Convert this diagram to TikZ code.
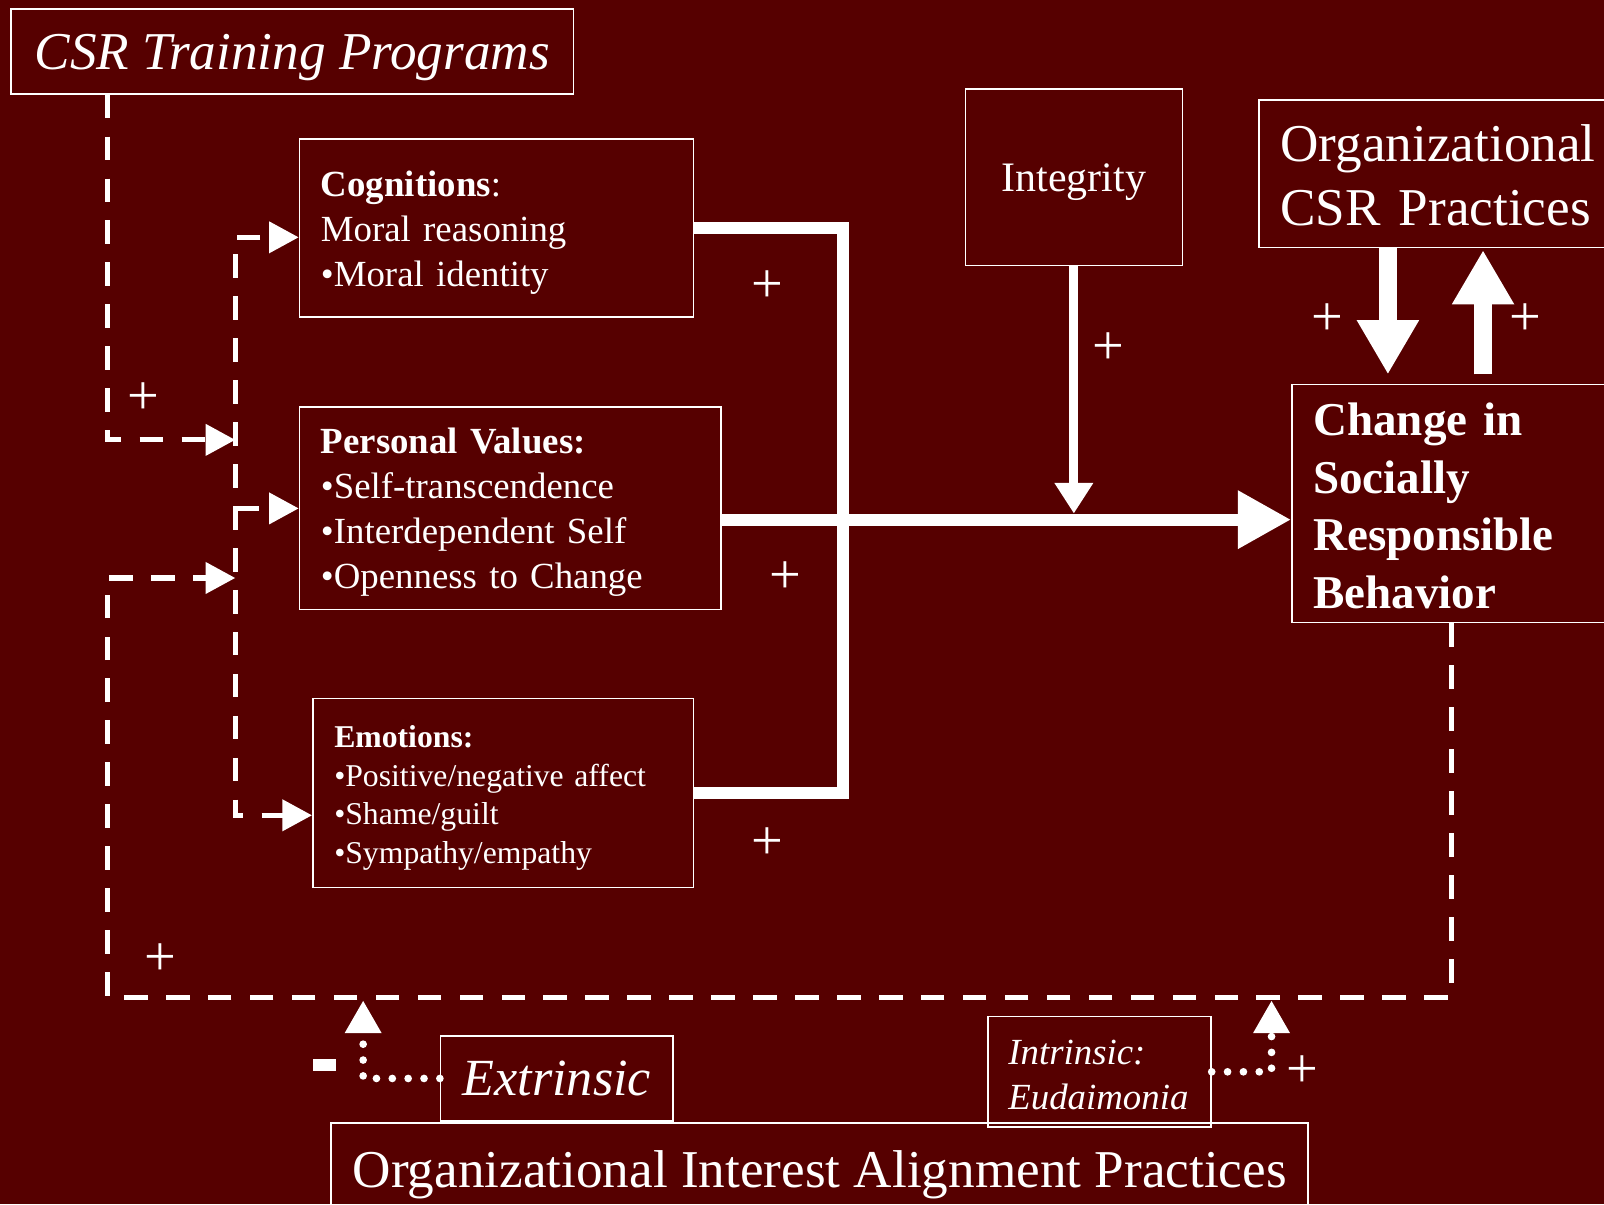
\documentclass[tikz,border=0pt]{standalone}
\usepackage{fontspec}
\setmainfont{Liberation Serif}
\usetikzlibrary{arrows.meta}
\definecolor{bgred}{RGB}{86,0,0}
\newcommand\setfs[2]{\fontsize{#1}{#2}\selectfont}

\tikzset{
  box/.style={draw=white,line width=1.5pt,text=white,inner ysep=0pt,inner xsep=21pt,
    text depth=0pt},
  bar/.style={white,line width=12pt},
  fat arrow/.style={white,line width=18pt,-{Triangle[length=53pt,width=57pt]}},
  dashline/.style={white,line width=5pt,dash pattern=on 23pt off 18pt,
    >={Triangle[length=29pt,width=30pt]}},
  dotline/.style={white,line width=7.5pt,dash pattern=on 0pt off 15.5pt,line cap=round,
    >={Triangle[length=32pt,width=34pt]}},
  sign/.style={text=white,inner sep=0pt,font=\setfs{55}{55}},
}

\begin{document}
\begin{tikzpicture}[x=1pt,y=-1pt]
  % background
  \fill [bgred] (0,0) rectangle (1568,1177);
  \useasboundingbox (0,0) rectangle (1568,1177);

  % boxes
  \node [box,anchor=north west,minimum width=550pt,minimum height=83pt,
    align=center,font=\itshape\setfs{52}{62}]
    (training) at (10,8) {CSR Training Programs};
  \node [box,anchor=north west,minimum width=385pt,minimum height=174pt,
    text width=343pt,text depth=86pt,align=left,font=\setfs{36}{44}]
    (cog) at (292,135)
    {\textbf{Cognitions}:\\Moral reasoning\\•Moral identity};
  \node [box,anchor=north west,minimum width=412pt,minimum height=198pt,
    text width=370pt,text depth=131pt,align=left,font=\setfs{36}{44}]
    (values) at (292,397)
    {\textbf{Personal Values:}\\•Self-transcendence\\•Interdependent Self\\•Openness to Change};
  \node [box,anchor=north west,minimum width=372pt,minimum height=185pt,
    text width=330pt,text depth=110pt,align=left,font=\setfs{31}{37.7}]
    (emo) at (305,682)
    {\textbf{Emotions:}\\•Positive/negative affect\\•Shame/guilt\\•Sympathy/empathy};
  \node [box,anchor=north west,minimum width=212pt,minimum height=173pt,
    align=center,font=\setfs{41}{49}]
    (integrity) at (943,86) {Integrity};
  \node [box,anchor=north west,minimum width=360pt,minimum height=144pt,
    text width=318pt,text depth=59pt,align=left,font=\setfs{52}{62}]
    (orgcsr) at (1230,97) {Organizational\\CSR Practices};
  \node [box,anchor=north west,minimum width=330pt,minimum height=233pt,
    text width=288pt,text depth=165pt,align=left,font=\bfseries\setfs{46}{56.3}]
    (change) at (1262,375) {Change in\\Socially\\Responsible\\Behavior};
  \node [box,anchor=north west,minimum width=955pt,minimum height=90pt,
    align=center,font=\setfs{52}{62}]
    (oiap) at (323,1097) {Organizational Interest Alignment Practices};
  \node [box,anchor=north west,minimum width=227pt,minimum height=83pt,
    align=center,font=\itshape\setfs{51}{61}]
    (extrinsic) at (430,1012) {Extrinsic};
  \node [box,anchor=north west,minimum width=218pt,minimum height=108pt,
    inner xsep=20pt,text width=178pt,text depth=38pt,align=left,
    font=\itshape\setfs{36}{44}]
    (intrinsic) at (965,993) {Intrinsic:\\Eudaimonia};

  % routing points
  \coordinate (bus) at (824,508);
  \coordinate (rail top) at (230,232);
  \coordinate (rail mid) at (230,497);
  \coordinate (rail bot) at (230,797);
  \coordinate (train in) at (230,430);
  \coordinate (loop in) at (230,565);
  \coordinate (loop corner) at (105,975);
  \coordinate (loop start) at ([xshift=-9pt]change.south);
  \coordinate (ext hit) at (355,975);
  \coordinate (int hit) at (1243,975);
  \coordinate (down top) at ([xshift=-54pt]orgcsr.south);
  \coordinate (up top) at ([xshift=39pt]orgcsr.south);

  % mediators into behavior
  \draw [bar]
    (cog.east) -| (bus) |- (emo.east)
  ;
  \draw [bar,-{Triangle[length=52pt,width=54pt]}]
    (values.east |- bus) -- (change.west |- bus)
  ;
  % integrity moderates
  \draw [white,line width=9pt,-{Triangle[length=30pt,width=36pt]},shorten >=6pt]
    (integrity.south) -- (integrity.south |- bus)
  ;
  % two-way link with csr practices
  \draw [fat arrow,shorten >=9pt]
    (down top) -- (down top |- change.north)
  ;
  \draw [fat arrow,shorten <=9pt,shorten >=2pt]
    (up top |- change.north) -- (up top)
  ;

  % training feeds the rail
  \draw [dashline,->]
    (training.south -| loop corner) |- (train in)
  ;
  \draw [dashline,dash phase=31pt,<->]
    (rail top -| cog.west) -- (rail top) -- (rail bot) -- (rail bot -| emo.west)
  ;
  \draw [dashline,->]
    (rail mid) -- (rail mid -| values.west)
  ;
  % feedback loop
  \draw [dashline,->]
    (loop start) |- (loop corner) |- (loop in)
  ;

  % alignment practices
  \draw [dotline,->,shorten >=3pt]
    (extrinsic.west) -| (ext hit)
  ;
  \draw [dotline,->,shorten >=3pt]
    (intrinsic.east) -| (int hit)
  ;

  % signs
  \node [fill=white,minimum width=23pt,minimum height=12pt,inner sep=0pt]
    (minus) at (317,1041) {};
  \node [sign] (plus cog) at (750,280) {+};
  \node [sign] (plus val) at (768,565) {+};
  \node [sign] (plus emo) at (750,825) {+};
  \node [sign] (plus int) at (1083,341) {+};
  \node [sign] (plus train) at (140,390) {+};
  \node [sign] (plus loop) at (157,938) {+};
  \node [sign] (plus down) at (1298,312) {+};
  \node [sign] (plus up) at (1491,312) {+};
  \node [sign] (plus intr) at (1273,1048) {+};
\end{tikzpicture}
\end{document}
